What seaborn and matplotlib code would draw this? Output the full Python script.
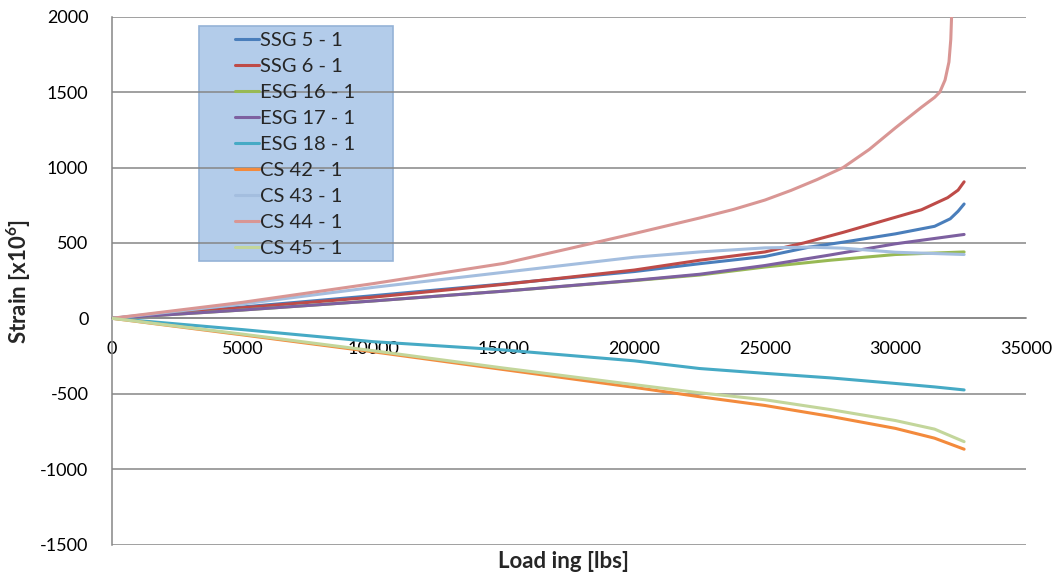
import matplotlib
matplotlib.use("Agg")
import matplotlib.pyplot as plt
import pandas as pd
import seaborn as sns
from matplotlib.patches import Rectangle

# ---- gauge readings: load [lbs] vs strain [x10^6] ----
ssg5_load = [0, 5000, 10000, 15000, 20000, 22500, 25000, 26700, 28000, 30000, 31500, 32100, 32400, 32630]
ssg5_strain = [0, 75, 150, 228, 310, 362, 410, 472, 505, 560, 610, 660, 710, 758]

ssg6_load = [0, 5000, 10000, 15000, 20000, 22500, 25000, 26500, 28000, 30000, 31000, 32000, 32400, 32630]
ssg6_strain = [0, 70, 140, 225, 320, 385, 440, 500, 570, 670, 720, 800, 850, 905]

esg16_load = [0, 5000, 10000, 15000, 20000, 22500, 25000, 27500, 30000, 32630]
esg16_strain = [0, 55, 115, 180, 250, 287, 340, 385, 423, 440]

esg17_load = [0, 5000, 10000, 15000, 20000, 22500, 25000, 27500, 30000, 32630]
esg17_strain = [0, 55, 115, 180, 252, 292, 350, 420, 494, 556]

esg18_load = [0, 5000, 10000, 15000, 20000, 22500, 25000, 27500, 30000, 31500, 32630]
esg18_strain = [0, -75, -155, -210, -282, -333, -365, -395, -432, -455, -475]

cs42_load = [0, 5000, 10000, 15000, 20000, 22500, 25000, 27500, 30000, 31500, 32630]
cs42_strain = [0, -110, -222, -340, -458, -520, -578, -650, -730, -795, -868]

cs43_load = [0, 5000, 10000, 15000, 20000, 22500, 25000, 26700, 28000, 30000, 32630]
cs43_strain = [0, 95, 205, 305, 405, 440, 467, 472, 465, 438, 423]

cs44_load = [0, 5000, 10000, 15000, 17500, 20000, 22500, 23800, 25000, 26000, 27000,
             28000, 29000, 30000, 31000, 31500, 31700, 31900, 32050, 32120, 32150]
cs44_strain = [0, 106, 230, 364, 462, 562, 665, 722, 784, 848, 920,
               1000, 1120, 1263, 1400, 1465, 1500, 1580, 1700, 1850, 2000]

cs45_load = [0, 5000, 10000, 15000, 20000, 22500, 25000, 27500, 30000, 31500, 32630]
cs45_strain = [0, -105, -215, -330, -440, -494, -540, -605, -678, -735, -818]

gauge_names = ["SSG 5 - 1", "SSG 6 - 1", "ESG 16 - 1", "ESG 17 - 1", "ESG 18 - 1",
               "CS 42 - 1", "CS 43 - 1", "CS 44 - 1", "CS 45 - 1"]
gauge_colors = ["#4A7EBB", "#BE4B48", "#98B954", "#7D60A0", "#46AAC5",
                "#F38A3C", "#A4BEDF", "#D99694", "#C3D69B"]

series = [
    (ssg5_load, ssg5_strain), (ssg6_load, ssg6_strain), (esg16_load, esg16_strain),
    (esg17_load, esg17_strain), (esg18_load, esg18_strain), (cs42_load, cs42_strain),
    (cs43_load, cs43_strain), (cs44_load, cs44_strain), (cs45_load, cs45_strain),
]

frames = []
for name, (load, strain) in zip(gauge_names, series):
    frames.append(pd.DataFrame({"load": load, "strain": strain, "gauge": name}))
df = pd.concat(frames, ignore_index=True)

sns.set_style("white")
plt.rcParams["font.family"] = ["Lato", "DejaVu Sans"]
plt.rcParams["axes.unicode_minus"] = False
plt.rcParams["mathtext.fontset"] = "custom"
plt.rcParams["mathtext.rm"] = "Lato"
plt.rcParams["mathtext.bf"] = "Lato:bold"
plt.rcParams["mathtext.it"] = "Lato:italic"
plt.rcParams["mathtext.default"] = "bf"

GRAY = "#868686"

fig = plt.figure(figsize=(10.55, 5.77), dpi=100)
ax = fig.add_axes([112 / 1055, 32.5 / 577, 914 / 1055, 527.8 / 577])

# legend background panel (sits beneath the gridlines)
ax.add_patch(Rectangle((0.0952, 0.5371), 0.2123, 0.4453, transform=ax.transAxes,
                       facecolor="#B3CCEA", edgecolor="#95B3D7", lw=1.2, zorder=0.3))

sns.lineplot(data=df, x="load", y="strain", hue="gauge", hue_order=gauge_names,
             palette=gauge_colors, estimator=None, sort=False, lw=2.2, ax=ax, zorder=3)

ax.set_xlim(0, 35000)
ax.set_ylim(-1500, 2000)
ax.set_xticks(range(0, 35001, 5000))
ax.set_yticks(range(-1500, 2001, 500))
ax.set_axisbelow(True)
ax.yaxis.grid(True, color=GRAY, lw=1.1)
ax.xaxis.grid(False)

for side in ("top", "right"):
    ax.spines[side].set_visible(False)
ax.spines["left"].set_color(GRAY)
ax.spines["left"].set_linewidth(1.1)
ax.spines["bottom"].set_position(("data", 0))
ax.spines["bottom"].set_color(GRAY)
ax.spines["bottom"].set_linewidth(1.1)

ax.tick_params(axis="x", direction="out", length=6, width=1.1, color=GRAY,
               labelsize=13, pad=10.5, labelcolor="black")
ax.tick_params(axis="y", direction="out", length=6, width=1.1, color=GRAY,
               labelsize=13, pad=11, labelcolor="black")

ax.set_xlabel("Load ing [lbs]", fontsize=16, fontweight="bold")
ax.xaxis.set_label_coords(0.4945, -0.012)
ax.set_ylabel(r"Strain [x10$^{6}$]", fontsize=16, fontweight="bold")
ax.yaxis.set_label_coords(-0.086, 0.499)

handles, labels = ax.get_legend_handles_labels()
leg = ax.legend(handles, labels, loc="upper left", bbox_to_anchor=(0.1346, 0.971),
                frameon=False, fontsize=14.5, handlelength=1.2, handletextpad=0.05,
                labelspacing=0.44, borderpad=0, borderaxespad=0)
for line in leg.get_lines():
    line.set_linewidth(2.2)

fig.savefig("out.png", dpi=100)
